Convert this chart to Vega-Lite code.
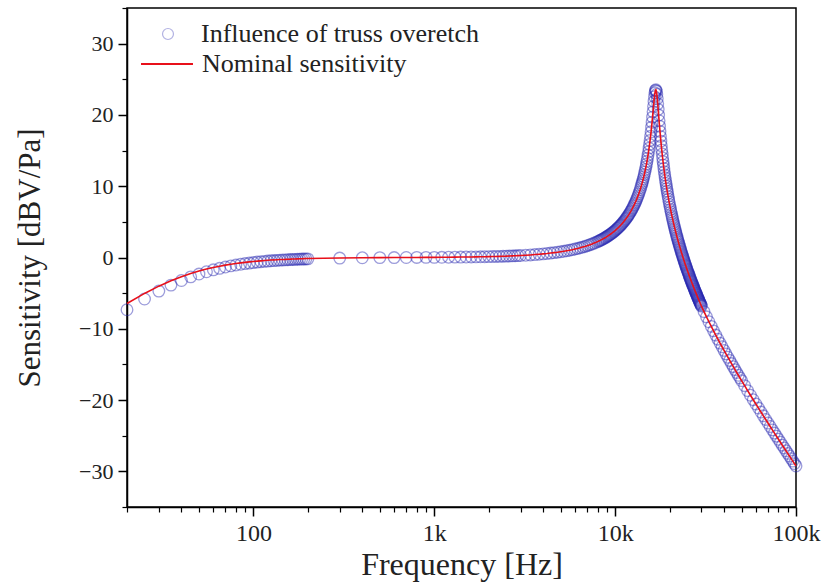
{
  "$schema": "https://vega.github.io/schema/vega-lite/v6.json",
  "width": 669,
  "height": 499,
  "autosize": {"type": "none"},
  "padding": {"left": 127, "top": 8, "right": 27, "bottom": 79},
  "background": "white",
  "config": {
    "view": {"stroke": "#000", "strokeWidth": 1.5},
    "font": "Liberation Serif"
  },
  "data": {"values": [
    {"f":20,"n":-6.46,"o":-7.33},{"f":25,"n":-5.04,"o":-5.82},{"f":30,"n":-4.02,"o":-4.71},{"f":35,"n":-3.26,"o":-3.87},
    {"f":40,"n":-2.69,"o":-3.23},{"f":45,"n":-2.24,"o":-2.72},{"f":50,"n":-1.9,"o":-2.32},{"f":55,"n":-1.62,"o":-2.0},
    {"f":60,"n":-1.4,"o":-1.73},{"f":65,"n":-1.22,"o":-1.52},{"f":70,"n":-1.07,"o":-1.34},{"f":75,"n":-0.95,"o":-1.18},
    {"f":80,"n":-0.84,"o":-1.06},{"f":85,"n":-0.75,"o":-0.95},{"f":90,"n":-0.68,"o":-0.85},{"f":95,"n":-0.61,"o":-0.78},
    {"f":100,"n":-0.56,"o":-0.71},{"f":105,"n":-0.51,"o":-0.64},{"f":110,"n":-0.47,"o":-0.59},{"f":115,"n":-0.43,"o":-0.54},
    {"f":120,"n":-0.39,"o":-0.5},{"f":125,"n":-0.36,"o":-0.46},{"f":130,"n":-0.34,"o":-0.43},{"f":135,"n":-0.31,"o":-0.4},
    {"f":140,"n":-0.29,"o":-0.37},{"f":145,"n":-0.27,"o":-0.35},{"f":150,"n":-0.26,"o":-0.33},{"f":155,"n":-0.24,"o":-0.31},
    {"f":160,"n":-0.23,"o":-0.29},{"f":165,"n":-0.21,"o":-0.27},{"f":170,"n":-0.2,"o":-0.26},{"f":175,"n":-0.19,"o":-0.24},
    {"f":180,"n":-0.18,"o":-0.23},{"f":185,"n":-0.17,"o":-0.22},{"f":190,"n":-0.16,"o":-0.21},{"f":195,"n":-0.15,"o":-0.2},
    {"f":200,"n":-0.15,"o":-0.19},
    {"f":300,"n":-0.07,"o":-0.08},{"f":400,"n":-0.03,"o":-0.04},{"f":500,"n":-0.02,"o":-0.02},{"f":600,"n":-0.01,"o":-0.01},
    {"f":700,"n":0,"o":0},{"f":800,"n":0.01,"o":0.01},{"f":900,"n":0.02,"o":0.02},{"f":1000,"n":0.02,"o":0.02},
    {"f":1100,"n":0.03,"o":0.03},{"f":1200,"n":0.04,"o":0.04},{"f":1300,"n":0.05,"o":0.05},{"f":1400,"n":0.06,"o":0.06},
    {"f":1500,"n":0.07,"o":0.07},{"f":1600,"n":0.08,"o":0.08},{"f":1700,"n":0.09,"o":0.09},{"f":1800,"n":0.1,"o":0.1},
    {"f":1900,"n":0.11,"o":0.11},{"f":2000,"n":0.12,"o":0.12},{"f":2100,"n":0.14,"o":0.14},{"f":2200,"n":0.15,"o":0.15},
    {"f":2300,"n":0.16,"o":0.16},{"f":2400,"n":0.18,"o":0.18},{"f":2500,"n":0.19,"o":0.19},{"f":2600,"n":0.21,"o":0.21},
    {"f":2700,"n":0.23,"o":0.23},{"f":2800,"n":0.24,"o":0.24},{"f":2900,"n":0.26,"o":0.26},{"f":3000,"n":0.28,"o":0.28},
    {"f":3200,"n":0.32,"o":0.32},{"f":3400,"n":0.36,"o":0.36},{"f":3600,"n":0.41,"o":0.41},{"f":3800,"n":0.46,"o":0.46},
    {"f":4000,"n":0.51,"o":0.51},{"f":4200,"n":0.56,"o":0.56},{"f":4400,"n":0.62,"o":0.62},{"f":4600,"n":0.68,"o":0.68},
    {"f":4800,"n":0.74,"o":0.74},{"f":5000,"n":0.81,"o":0.81},{"f":5200,"n":0.87,"o":0.87},{"f":5400,"n":0.95,"o":0.95},
    {"f":5600,"n":1.02,"o":1.02},{"f":5800,"n":1.1,"o":1.1},{"f":6000,"n":1.19,"o":1.19},{"f":6200,"n":1.27,"o":1.27},
    {"f":6400,"n":1.36,"o":1.36},{"f":6600,"n":1.46,"o":1.46},{"f":6800,"n":1.55,"o":1.55},{"f":7000,"n":1.66,"o":1.66},
    {"f":7200,"n":1.76,"o":1.76},{"f":7400,"n":1.87,"o":1.87},{"f":7600,"n":1.99,"o":1.99},{"f":7800,"n":2.1,"o":2.1},
    {"f":8000,"n":2.23,"o":2.23},{"f":8125,"n":2.31,"o":2.31},{"f":8250,"n":2.39,"o":2.39},{"f":8375,"n":2.47,"o":2.47},
    {"f":8500,"n":2.56,"o":2.56},{"f":8625,"n":2.65,"o":2.65},{"f":8750,"n":2.74,"o":2.74},{"f":8875,"n":2.83,"o":2.83},
    {"f":9000,"n":2.93,"o":2.93},{"f":9125,"n":3.03,"o":3.03},{"f":9250,"n":3.13,"o":3.13},{"f":9375,"n":3.23,"o":3.23},
    {"f":9500,"n":3.33,"o":3.33},{"f":9625,"n":3.44,"o":3.44},{"f":9750,"n":3.55,"o":3.55},{"f":9875,"n":3.67,"o":3.67},
    {"f":10000,"n":3.78,"o":3.78},{"f":10125,"n":3.9,"o":3.9},{"f":10250,"n":4.03,"o":4.03},{"f":10375,"n":4.15,"o":4.15},
    {"f":10500,"n":4.28,"o":4.28},{"f":10625,"n":4.42,"o":4.42},{"f":10750,"n":4.55,"o":4.55},{"f":10875,"n":4.69,"o":4.69},
    {"f":11000,"n":4.84,"o":4.84},{"f":11125,"n":4.99,"o":4.99},{"f":11250,"n":5.14,"o":5.14},{"f":11375,"n":5.3,"o":5.3},
    {"f":11500,"n":5.46,"o":5.46},{"f":11625,"n":5.63,"o":5.63},{"f":11750,"n":5.8,"o":5.8},{"f":11875,"n":5.98,"o":5.98},
    {"f":12000,"n":6.16,"o":6.16},{"f":12125,"n":6.35,"o":6.35},{"f":12250,"n":6.54,"o":6.54},{"f":12375,"n":6.74,"o":6.74},
    {"f":12500,"n":6.95,"o":6.95},{"f":12625,"n":7.17,"o":7.17},{"f":12750,"n":7.39,"o":7.39},{"f":12875,"n":7.62,"o":7.62},
    {"f":13000,"n":7.86,"o":7.86},{"f":13125,"n":8.11,"o":8.11},{"f":13250,"n":8.37,"o":8.37},{"f":13375,"n":8.64,"o":8.64},
    {"f":13500,"n":8.92,"o":8.92},{"f":13625,"n":9.21,"o":9.21},{"f":13750,"n":9.51,"o":9.51},{"f":13875,"n":9.83,"o":9.83},
    {"f":14000,"n":10.16,"o":10.16},{"f":14100,"n":10.43,"o":10.43},{"f":14200,"n":10.72,"o":10.72},{"f":14300,"n":11.02,"o":11.02},
    {"f":14400,"n":11.33,"o":11.33},{"f":14500,"n":11.65,"o":11.65},{"f":14600,"n":11.99,"o":11.99},{"f":14700,"n":12.34,"o":12.34},
    {"f":14800,"n":12.71,"o":12.71},{"f":14900,"n":13.09,"o":13.09},{"f":15000,"n":13.5,"o":13.5},{"f":15100,"n":13.92,"o":13.92},
    {"f":15200,"n":14.37,"o":14.37},{"f":15300,"n":14.84,"o":14.84},{"f":15400,"n":15.34,"o":15.34},{"f":15500,"n":15.87,"o":15.87},
    {"f":15600,"n":16.42,"o":16.42},{"f":15700,"n":17.01,"o":17.01},{"f":15800,"n":17.63,"o":17.63},{"f":15900,"n":18.28,"o":18.28},
    {"f":16000,"n":18.97,"o":18.97},{"f":16100,"n":19.69,"o":19.69},{"f":16200,"n":20.43,"o":20.43},{"f":16300,"n":21.18,"o":21.18},
    {"f":16400,"n":21.9,"o":21.9},{"f":16500,"n":22.56,"o":22.56},{"f":16600,"n":23.1,"o":23.1},{"f":16700,"n":23.44,"o":23.44},
    {"f":16800,"n":23.52,"o":23.52},{"f":16900,"n":23.33,"o":23.33},{"f":17000,"n":22.9,"o":22.9},{"f":17100,"n":22.29,"o":22.29},
    {"f":17200,"n":21.56,"o":21.56},{"f":17300,"n":20.78,"o":20.78},{"f":17400,"n":19.98,"o":19.98},{"f":17500,"n":19.19,"o":19.19},
    {"f":17600,"n":18.42,"o":18.42},{"f":17700,"n":17.69,"o":17.69},{"f":17800,"n":16.99,"o":16.99},{"f":17900,"n":16.32,"o":16.32},
    {"f":18000,"n":15.69,"o":15.69},{"f":18100,"n":15.09,"o":15.09},{"f":18200,"n":14.52,"o":14.52},{"f":18300,"n":13.97,"o":13.97},
    {"f":18400,"n":13.45,"o":13.45},{"f":18500,"n":12.96,"o":12.96},{"f":18600,"n":12.49,"o":12.49},{"f":18700,"n":12.03,"o":12.03},
    {"f":18800,"n":11.6,"o":11.6},{"f":18900,"n":11.18,"o":11.18},{"f":19000,"n":10.78,"o":10.78},{"f":19100,"n":10.39,"o":10.39},
    {"f":19200,"n":10.02,"o":10.02},{"f":19300,"n":9.66,"o":9.66},{"f":19400,"n":9.31,"o":9.31},{"f":19500,"n":8.98,"o":8.98},
    {"f":19625,"n":8.57,"o":8.57},{"f":19750,"n":8.18,"o":8.18},{"f":19875,"n":7.8,"o":7.8},{"f":20000,"n":7.44,"o":7.44},
    {"f":20125,"n":7.09,"o":7.09},{"f":20250,"n":6.75,"o":6.75},{"f":20375,"n":6.42,"o":6.42},{"f":20500,"n":6.1,"o":6.1},
    {"f":20625,"n":5.78,"o":5.78},{"f":20750,"n":5.48,"o":5.48},{"f":20875,"n":5.19,"o":5.19},{"f":21000,"n":4.9,"o":4.9},
    {"f":21125,"n":4.62,"o":4.62},{"f":21250,"n":4.35,"o":4.35},{"f":21375,"n":4.09,"o":4.09},{"f":21500,"n":3.83,"o":3.83},
    {"f":21625,"n":3.58,"o":3.58},{"f":21750,"n":3.33,"o":3.33},{"f":21875,"n":3.09,"o":3.09},{"f":22000,"n":2.85,"o":2.85},
    {"f":22125,"n":2.62,"o":2.62},{"f":22250,"n":2.39,"o":2.39},{"f":22375,"n":2.17,"o":2.17},{"f":22500,"n":1.95,"o":1.95},
    {"f":22625,"n":1.74,"o":1.74},{"f":22750,"n":1.53,"o":1.53},{"f":22875,"n":1.32,"o":1.32},{"f":23000,"n":1.12,"o":1.12},
    {"f":23125,"n":0.92,"o":0.92},{"f":23250,"n":0.73,"o":0.73},{"f":23375,"n":0.53,"o":0.53},{"f":23500,"n":0.34,"o":0.34},
    {"f":23625,"n":0.16,"o":0.16},{"f":23750,"n":-0.03,"o":-0.03},{"f":23875,"n":-0.21,"o":-0.21},{"f":24000,"n":-0.38,"o":-0.38},
    {"f":24125,"n":-0.56,"o":-0.56},{"f":24250,"n":-0.73,"o":-0.73},{"f":24375,"n":-0.9,"o":-0.9},{"f":24500,"n":-1.07,"o":-1.07},
    {"f":24625,"n":-1.23,"o":-1.23},{"f":24750,"n":-1.4,"o":-1.4},{"f":24875,"n":-1.56,"o":-1.56},{"f":25000,"n":-1.72,"o":-1.72},
    {"f":25125,"n":-1.87,"o":-1.87},{"f":25250,"n":-2.03,"o":-2.03},{"f":25375,"n":-2.18,"o":-2.18},{"f":25500,"n":-2.33,"o":-2.33},
    {"f":25625,"n":-2.48,"o":-2.48},{"f":25750,"n":-2.63,"o":-2.63},{"f":25875,"n":-2.77,"o":-2.77},{"f":26000,"n":-2.92,"o":-2.92},
    {"f":26125,"n":-3.06,"o":-3.06},{"f":26250,"n":-3.2,"o":-3.2},{"f":26375,"n":-3.34,"o":-3.34},{"f":26500,"n":-3.47,"o":-3.47},
    {"f":26625,"n":-3.61,"o":-3.61},{"f":26750,"n":-3.74,"o":-3.74},{"f":26875,"n":-3.88,"o":-3.88},{"f":27000,"n":-4.01,"o":-4.01},
    {"f":27125,"n":-4.14,"o":-4.14},{"f":27250,"n":-4.27,"o":-4.27},{"f":27375,"n":-4.4,"o":-4.4},{"f":27500,"n":-4.52,"o":-4.52},
    {"f":27625,"n":-4.65,"o":-4.65},{"f":27750,"n":-4.77,"o":-4.77},{"f":27875,"n":-4.89,"o":-4.89},{"f":28000,"n":-5.01,"o":-5.01},
    {"f":28125,"n":-5.13,"o":-5.13},{"f":28250,"n":-5.25,"o":-5.25},{"f":28375,"n":-5.37,"o":-5.37},{"f":28500,"n":-5.49,"o":-5.49},
    {"f":28625,"n":-5.61,"o":-5.61},{"f":28750,"n":-5.72,"o":-5.72},{"f":28875,"n":-5.83,"o":-5.83},{"f":29000,"n":-5.95,"o":-5.95},
    {"f":29125,"n":-6.06,"o":-6.06},{"f":29250,"n":-6.17,"o":-6.17},{"f":29375,"n":-6.28,"o":-6.28},{"f":29500,"n":-6.39,"o":-6.39},
    {"f":29625,"n":-6.5,"o":-6.5},{"f":29750,"n":-6.6,"o":-6.6},{"f":29875,"n":-6.71,"o":-6.71},{"f":30000,"n":-6.82,"o":-6.82},
    {"f":31000,"n":-7.59,"o":-7.59},{"f":32000,"n":-8.32,"o":-8.32},{"f":33000,"n":-9.01,"o":-9.01},{"f":34000,"n":-9.66,"o":-9.66},
    {"f":35000,"n":-10.29,"o":-10.29},{"f":36000,"n":-10.88,"o":-10.88},{"f":37000,"n":-11.46,"o":-11.46},{"f":38000,"n":-12.01,"o":-12.01},
    {"f":39000,"n":-12.52,"o":-12.52},{"f":40000,"n":-13.03,"o":-13.03},{"f":41000,"n":-13.52,"o":-13.52},{"f":42000,"n":-13.99,"o":-13.99},
    {"f":43000,"n":-14.44,"o":-14.44},{"f":44000,"n":-14.88,"o":-14.88},{"f":45000,"n":-15.31,"o":-15.31},{"f":46000,"n":-15.73,"o":-15.73},
    {"f":47000,"n":-16.13,"o":-16.13},{"f":48000,"n":-16.52,"o":-16.52},{"f":49000,"n":-16.9,"o":-16.9},{"f":50000,"n":-17.27,"o":-17.27},
    {"f":52000,"n":-17.98,"o":-17.98},{"f":54000,"n":-18.67,"o":-18.67},{"f":56000,"n":-19.32,"o":-19.32},{"f":58000,"n":-19.95,"o":-19.95},
    {"f":60000,"n":-20.55,"o":-20.55},{"f":62000,"n":-21.12,"o":-21.12},{"f":64000,"n":-21.68,"o":-21.68},{"f":66000,"n":-22.21,"o":-22.21},
    {"f":68000,"n":-22.72,"o":-22.72},{"f":70000,"n":-23.22,"o":-23.22},{"f":72000,"n":-23.71,"o":-23.71},{"f":74000,"n":-24.18,"o":-24.18},
    {"f":76000,"n":-24.63,"o":-24.63},{"f":78000,"n":-25.07,"o":-25.07},{"f":80000,"n":-25.5,"o":-25.5},{"f":82000,"n":-25.92,"o":-25.92},
    {"f":84000,"n":-26.33,"o":-26.33},{"f":86000,"n":-26.72,"o":-26.72},{"f":88000,"n":-27.11,"o":-27.11},{"f":90000,"n":-27.48,"o":-27.48},
    {"f":92000,"n":-27.85,"o":-27.85},{"f":94000,"n":-28.21,"o":-28.21},{"f":96000,"n":-28.56,"o":-28.56},{"f":98000,"n":-28.91,"o":-28.91},
    {"f":100000,"n":-29.24,"o":-29.24}
  ]},
  "resolve": {"axis": {"x": "independent", "y": "independent"}},
  "layer": [
    {
      "mark": {"type": "point", "shape": "circle", "filled": false, "size": 135, "strokeWidth": 1.3, "opacity": 0.45},
      "encoding": {
        "x": {"field": "f", "type": "quantitative",
          "scale": {"type": "log", "domain": [20, 100000], "nice": false},
          "axis": {"orient": "bottom", "values": [20,30,40,50,60,70,80,90,200,300,400,500,600,700,800,900,2000,3000,4000,5000,6000,7000,8000,9000,20000,30000,40000,50000,60000,70000,80000,90000],
            "labels": false, "title": null, "grid": false, "domain": false, "tickSize": 5, "tickWidth": 1.2, "tickColor": "#000"}},
        "y": {"field": "o", "type": "quantitative",
          "scale": {"domain": [-35, 35], "nice": false, "zero": false},
          "axis": {"orient": "left", "values": [-35,-25,-15,-5,5,15,25,35], "labels": false, "title": null, "grid": false, "domain": false, "tickSize": 5, "tickWidth": 1.2, "tickColor": "#000"}},
        "stroke": {"datum": "Influence of truss overetch", "type": "nominal",
          "scale": {"range": ["#2626b0"]},
          "legend": {"orient": "none", "legendX": 28, "legendY": 13, "title": null, "padding": 0,
            "labelFont": "Liberation Serif", "labelFontSize": 26, "labelColor": "#222", "labelOffset": 20, "labelLimit": 500,
            "symbolType": "circle", "symbolSize": 120, "symbolStrokeWidth": 1.2, "symbolOpacity": 0.35, "symbolFillColor": "transparent"}}
      }
    },
    {
      "mark": {"type": "line", "strokeWidth": 1.6},
      "encoding": {
        "x": {"field": "f", "type": "quantitative",
          "scale": {"type": "log", "domain": [20, 100000], "nice": false},
          "axis": {"orient": "bottom", "values": [100, 1000, 10000, 100000],
            "labelExpr": "datum.value >= 1000 ? format(datum.value / 1000, 'd') + 'k' : format(datum.value, 'd')",
            "title": "Frequency [Hz]", "grid": false, "domain": true, "domainColor": "#000", "domainWidth": 1.5,
            "tickSize": 9, "tickWidth": 1.5, "tickColor": "#000",
            "labelFont": "Liberation Serif", "labelFontSize": 24, "labelColor": "#222", "labelPadding": 5, "labelFlush": false,
            "titleFont": "Liberation Serif", "titleFontSize": 32, "titleFontWeight": "normal", "titleColor": "#222", "titlePadding": 4}},
        "y": {"field": "n", "type": "quantitative",
          "scale": {"domain": [-35, 35], "nice": false, "zero": false},
          "axis": {"orient": "left", "values": [-30, -20, -10, 0, 10, 20, 30],
            "title": "Sensitivity [dBV/Pa]", "grid": false, "domain": true, "domainColor": "#000", "domainWidth": 1.5,
            "tickSize": 9, "tickWidth": 1.5, "tickColor": "#000",
            "labelFont": "Liberation Serif", "labelFontSize": 22, "labelColor": "#222", "labelPadding": 5,
            "titleFont": "Liberation Serif", "titleFontSize": 31, "titleFontWeight": "normal", "titleColor": "#222", "titlePadding": 32}},
        "color": {"datum": "Nominal sensitivity", "type": "nominal",
          "scale": {"range": ["#e8101a"]},
          "legend": {"orient": "none", "legendX": 13, "legendY": 29, "title": null, "padding": 0,
            "labelFont": "Liberation Serif", "labelFontSize": 26, "labelColor": "#222", "labelOffset": 8, "labelLimit": 500,
            "symbolType": "stroke", "symbolSize": 2700, "symbolStrokeWidth": 1.8}}
      }
    }
  ]
}
